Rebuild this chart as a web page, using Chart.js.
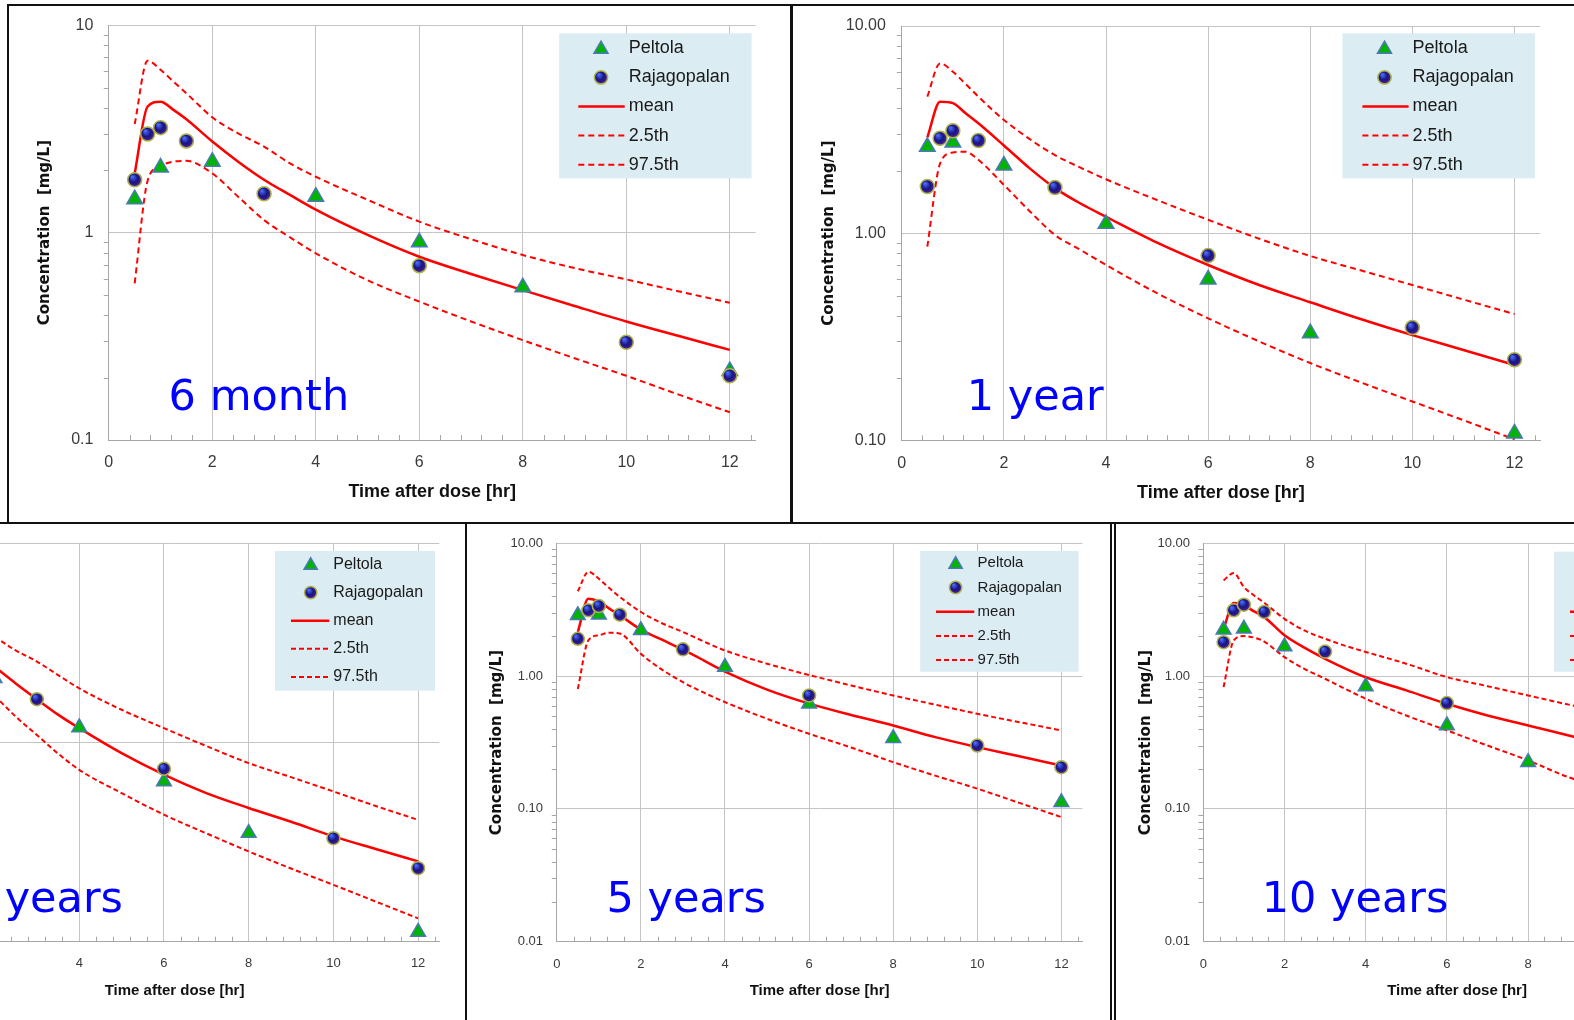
<!DOCTYPE html>
<html><head><meta charset="utf-8">
<script src="https://cdn.jsdelivr.net/npm/chart.js@4.4.1/dist/chart.umd.min.js"></script>
<style>
html,body{margin:0;padding:0;background:#fff;overflow:hidden;}
#stage{position:relative;width:1574px;height:1020px;overflow:hidden;background:#fff;}
#stage canvas{position:absolute;}
.ln{position:absolute;background:#111;}
</style></head><body>
<div id="stage">
<canvas id="c6m"></canvas>
<canvas id="c1y"></canvas>
<canvas id="c2y"></canvas>
<canvas id="c5y"></canvas>
<canvas id="c10y"></canvas>
<div class="ln" style="left:7px;top:4px;width:1567px;height:2px"></div>
<div class="ln" style="left:7px;top:4px;width:2px;height:520px"></div>
<div class="ln" style="left:790px;top:4px;width:3px;height:520px"></div>
<div class="ln" style="left:0px;top:522px;width:1574px;height:2px"></div>
<div class="ln" style="left:465px;top:523px;width:2px;height:497px"></div>
<div class="ln" style="left:1110px;top:523px;width:2px;height:497px"></div>
<div class="ln" style="left:1114px;top:523px;width:2px;height:497px"></div>
</div>
<script>
// ---------------- DATA ----------------
const xTickValues = [0, 2, 4, 6, 8, 10, 12];
const legendLabels = ['Peltola', 'Rajagopalan', 'mean', '2.5th', '97.5th'];

// simulation time grids
const simTimes = [0.5, 0.75, 1, 1.25, 1.5, 2, 2.5, 3, 3.5, 4, 5, 6, 7, 8, 9, 10, 11, 12];
const simTimes2y = [2, 2.5, 3, 3.5, 4, 5, 6, 7, 8, 9, 10, 11, 12];
const simTimes10y = [0.5, 0.75, 1, 1.25, 1.5, 2, 2.5, 3, 3.5, 4, 5, 6, 7, 8, 9, 10];

// 6 month
const mean6m  = [1.93, 4.06, 4.28, 3.91, 3.52, 2.75, 2.20, 1.80, 1.52, 1.29, 0.975, 0.765, 0.632, 0.528, 0.443, 0.373, 0.318, 0.272];
const lower6m = [0.57, 1.78, 2.10, 2.20, 2.22, 1.93, 1.49, 1.15, 0.95, 0.795, 0.59, 0.465, 0.373, 0.303, 0.248, 0.204, 0.166, 0.136];
const upper6m = [3.34, 6.75, 6.10, 5.35, 4.70, 3.60, 3.01, 2.60, 2.16, 1.86, 1.44, 1.13, 0.93, 0.78, 0.675, 0.595, 0.522, 0.459];
const peltolaT6m = [0.5, 1, 2, 4, 6, 8, 12];
const peltolaC6m = [1.45, 2.06, 2.20, 1.49, 0.90, 0.545, 0.215];
const rajaT6m = [0.5, 0.75, 1, 1.5, 3, 6, 10, 12];
const rajaC6m = [1.80, 2.99, 3.21, 2.77, 1.54, 0.693, 0.296, 0.204];

// 1 year
const mean1y  = [2.90, 4.31, 4.24, 3.79, 3.39, 2.65, 2.06, 1.65, 1.39, 1.20, 0.90, 0.702, 0.562, 0.464, 0.384, 0.322, 0.273, 0.231];
const lower1y = [0.86, 2.17, 2.45, 2.47, 2.26, 1.71, 1.28, 0.98, 0.83, 0.702, 0.513, 0.388, 0.30, 0.236, 0.19, 0.154, 0.125, 0.101];
const upper1y = [4.56, 6.60, 6.02, 5.25, 4.56, 3.52, 2.85, 2.38, 2.07, 1.82, 1.445, 1.16, 0.94, 0.776, 0.66, 0.562, 0.478, 0.407];
const peltolaT1y = [0.5, 1, 2, 4, 6, 8, 12];
const peltolaC1y = [2.61, 2.74, 2.12, 1.11, 0.598, 0.329, 0.108];
const rajaT1y = [0.5, 0.75, 1, 1.5, 3, 6, 10, 12];
const rajaC1y = [1.68, 2.87, 3.12, 2.80, 1.66, 0.779, 0.35, 0.245];

// 2 years (left part cut off)
const mean2y  = [2.40, 1.98, 1.65, 1.38, 1.18, 0.884, 0.689, 0.557, 0.469, 0.40, 0.338, 0.292, 0.253];
const lower2y = [1.72, 1.35, 1.09, 0.88, 0.729, 0.557, 0.434, 0.35, 0.284, 0.233, 0.193, 0.159, 0.131];
const upper2y = [3.40, 2.90, 2.55, 2.18, 1.87, 1.46, 1.18, 0.96, 0.788, 0.67, 0.568, 0.48, 0.409];
const peltolaT2y = [2, 4, 6, 8, 12];
const peltolaC2y = [2.10, 1.19, 0.637, 0.351, 0.112];
const rajaT2y = [3, 6, 10, 12];
const rajaC2y = [1.65, 0.738, 0.331, 0.234];

// 5 years
const mean5y  = [2.15, 3.83, 3.65, 3.22, 2.87, 2.24, 1.88, 1.58, 1.31, 1.08, 0.79, 0.62, 0.51, 0.425, 0.347, 0.292, 0.249, 0.212];
const lower5y = [0.80, 1.86, 2.03, 2.12, 2.09, 1.47, 1.12, 0.90, 0.75, 0.637, 0.477, 0.368, 0.29, 0.225, 0.178, 0.142, 0.111, 0.0867];
const upper5y = [4.35, 6.10, 5.41, 4.60, 3.94, 3.04, 2.50, 2.15, 1.82, 1.56, 1.24, 1.02, 0.85, 0.715, 0.61, 0.52, 0.45, 0.39];
const peltolaT5y = [0.5, 1, 2, 4, 6, 8, 12];
const peltolaC5y = [2.87, 2.90, 2.21, 1.17, 0.619, 0.341, 0.112];
const rajaT5y = [0.5, 0.75, 1, 1.5, 3, 6, 10, 12];
const rajaC5y = [1.91, 3.13, 3.37, 2.90, 1.59, 0.715, 0.30, 0.206];

// 10 years (right part cut off)
const mean10y  = [2.27, 3.55, 3.41, 3.07, 2.78, 2.03, 1.63, 1.35, 1.14, 0.98, 0.78, 0.619, 0.505, 0.425, 0.357, 0.30];
const lower10y = [0.826, 1.86, 2.00, 1.95, 1.82, 1.39, 1.13, 0.955, 0.80, 0.675, 0.505, 0.39, 0.30, 0.232, 0.173, 0.14];
const upper10y = [5.26, 5.97, 4.68, 4.05, 3.57, 2.70, 2.20, 1.91, 1.69, 1.52, 1.24, 0.983, 0.84, 0.715, 0.61, 0.53];
const peltolaT10y = [0.5, 1, 2, 4, 6, 8];
const peltolaC10y = [2.23, 2.27, 1.67, 0.836, 0.425, 0.225];
const rajaT10y = [0.5, 0.75, 1, 1.5, 3, 6];
const rajaC10y = [1.80, 3.13, 3.45, 3.04, 1.53, 0.626];

// y-axis ticks
const yTicks2dec = [0.1, 1, 10];
const yLabels6m = ['0.1', '1', '10'];
const yLabels2dec = ['0.10', '1.00', '10.00'];
const yTicks3dec = [0.01, 0.1, 1, 10];
const yLabels3dec = ['0.01', '0.10', '1.00', '10.00'];

// ---------------- RENDERING ----------------
const SANS = '"Liberation Sans", Arial, sans-serif';
const DEJAVU = '"DejaVu Sans", Verdana, sans-serif';
const RED = '#ff0000';
const TRI_FILL = '#00b400', TRI_STROKE = '#4a78b8';
const CIR_STROKE = '#a9b548';

function circleGradient(ctx2d, x, y, r) {
  const g = ctx2d.createRadialGradient(x - r * 0.35, y - r * 0.45, r * 0.1, x, y, r);
  g.addColorStop(0, '#4d68ff');
  g.addColorStop(0.55, '#15157f');
  g.addColorStop(1, '#5a1d9c');
  return g;
}
function drawTriangle(ctx, x, y, r) {
  const s = Math.sin(Math.PI / 3) * r;
  ctx.beginPath();
  ctx.moveTo(x, y - r);
  ctx.lineTo(x + s, y + r / 2);
  ctx.lineTo(x - s, y + r / 2);
  ctx.closePath();
  ctx.fillStyle = TRI_FILL; ctx.fill();
  ctx.lineWidth = 1.5; ctx.strokeStyle = TRI_STROKE; ctx.stroke();
}
function drawCircle(ctx, x, y, r) {
  ctx.beginPath();
  ctx.arc(x, y, r, 0, Math.PI * 2);
  ctx.fillStyle = circleGradient(ctx, x, y, r); ctx.fill();
  ctx.lineWidth = 1.5; ctx.strokeStyle = CIR_STROKE; ctx.stroke();
}

function makeChart(id, c) {
  const cv = document.getElementById(id);
  cv.width = c.w; cv.height = c.h;
  cv.style.left = c.left + 'px'; cv.style.top = c.top + 'px';
  cv.style.width = c.w + 'px'; cv.style.height = c.h + 'px';
  const xy = (ts, vs) => ts.map((t, i) => ({ x: t, y: vs[i] }));

  const decor = {
    id: 'decor_' + id,
    beforeDatasetsDraw(chart) {
      const ctx = chart.ctx, a = chart.chartArea, xs = chart.scales.x, ys = chart.scales.y;
      ctx.save();
      ctx.strokeStyle = '#a6a6a6'; ctx.lineWidth = 1;
      ctx.beginPath();
      for (let k = 1; k <= 31; k++) {
        if (k % 5 === 0) continue;
        const v = Math.round(k * 0.4 * 10) / 10;
        const px = Math.round(xs.getPixelForValue(v)) + 0.5;
        if (px > a.right) continue;
        ctx.moveTo(px, a.bottom); ctx.lineTo(px, a.bottom - 5);
      }
      for (let d = c.yMin; d < 10 - 1e-9; d *= 10) {
        for (let m = 2; m <= 9; m++) {
          const py = Math.round(ys.getPixelForValue(m * d)) + 0.5;
          ctx.moveTo(a.left - 5, py); ctx.lineTo(a.left, py);
        }
      }
      ctx.stroke();
      ctx.restore();
    },
    afterDraw(chart) {
      const ctx = chart.ctx, L = c.legend;
      ctx.save();
      ctx.fillStyle = '#dbecf3';
      ctx.fillRect(L.x, L.y, L.w, L.h);
      const rows = legendLabels.map((_, i) => L.row0 + i * L.step);
      drawTriangle(ctx, L.mx, rows[0] + 1, c.triR * 0.9);
      drawCircle(ctx, L.mx, rows[1], c.cirR * 0.95);
      ctx.strokeStyle = RED;
      ctx.lineWidth = 2.5; ctx.setLineDash([]);
      ctx.beginPath(); ctx.moveTo(L.lx0, rows[2]); ctx.lineTo(L.lx1, rows[2]); ctx.stroke();
      ctx.lineWidth = 2; ctx.setLineDash(c.dash);
      ctx.beginPath(); ctx.moveTo(L.lx0, rows[3]); ctx.lineTo(L.lx1, rows[3]); ctx.stroke();
      ctx.beginPath(); ctx.moveTo(L.lx0, rows[4]); ctx.lineTo(L.lx1, rows[4]); ctx.stroke();
      ctx.setLineDash([]);
      ctx.fillStyle = '#1a1a1a';
      ctx.font = L.font + 'px ' + SANS;
      ctx.textBaseline = 'middle'; ctx.textAlign = 'left';
      legendLabels.forEach((t, i) => ctx.fillText(t, L.tx, rows[i]));
      ctx.fillStyle = '#0000ff';
      ctx.font = c.tag.size + 'px ' + DEJAVU;
      ctx.textBaseline = 'alphabetic';
      ctx.textAlign = c.tag.align || 'left';
      ctx.fillText(c.tag.text, c.tag.x, c.tag.y);
      ctx.restore();
    }
  };

  return new Chart(cv, {
    type: 'line',
    data: {
      datasets: [
        { label: 'Peltola', data: xy(c.pT, c.pC), showLine: false, pointStyle: 'triangle',
          pointRadius: c.triR, pointHoverRadius: c.triR, pointBackgroundColor: TRI_FILL,
          pointBorderColor: TRI_STROKE, pointBorderWidth: 1.5, order: 2, clip: false },
        { label: 'Rajagopalan', data: xy(c.rT, c.rC), showLine: false, pointStyle: 'circle',
          pointRadius: c.cirR, pointHoverRadius: c.cirR,
          pointBackgroundColor: (ctx) => {
            const ch = ctx.chart;
            if (!ctx.parsed || !ch.scales || !ch.scales.x || !ch.chartArea) return '#15157f';
            const px = ch.scales.x.getPixelForValue(ctx.parsed.x);
            const py = ch.scales.y.getPixelForValue(ctx.parsed.y);
            if (!isFinite(px) || !isFinite(py)) return '#15157f';
            return circleGradient(ch.ctx, px, py, c.cirR);
          },
          pointBorderColor: CIR_STROKE, pointBorderWidth: 1.5, order: 1, clip: false },
        { label: 'mean', data: xy(c.sT, c.mean), borderColor: RED, borderWidth: 2.5,
          pointRadius: 0, cubicInterpolationMode: 'monotone', order: 3 },
        { label: '2.5th', data: xy(c.sT, c.lo), borderColor: RED, borderWidth: 2, borderDash: c.dash,
          pointRadius: 0, cubicInterpolationMode: 'monotone', order: 4 },
        { label: '97.5th', data: xy(c.sT, c.hi), borderColor: RED, borderWidth: 2, borderDash: c.dash,
          pointRadius: 0, cubicInterpolationMode: 'monotone', order: 5 }
      ]
    },
    options: {
      responsive: false, animation: false, devicePixelRatio: 1, events: [],
      layout: { padding: { left: 0, top: c.padT, right: c.padR, bottom: 0 } },
      plugins: { legend: { display: false }, tooltip: { enabled: false }, title: { display: false } },
      scales: {
        x: {
          type: 'linear', min: 0, max: 12.5,
          afterBuildTicks: s => { s.ticks = xTickValues.map(v => ({ value: v })); },
          afterFit: s => { s.height = c.xH; s.paddingLeft = 0; s.paddingRight = 0; },
          grid: { color: '#c4c4c4', lineWidth: 1, drawTicks: false },
          border: { color: '#a6a6a6', width: 1 },
          ticks: { padding: c.xtPad, color: '#3a3a3a', autoSkip: false, maxRotation: 0,
                   font: { family: SANS, size: c.xtSize }, callback: v => String(v) },
          title: { display: true, text: 'Time after dose [hr]', color: '#111',
                   font: { family: SANS, weight: 'bold', size: c.xTitleSize },
                   padding: { top: 0, bottom: c.xTitlePad } }
        },
        y: {
          type: 'logarithmic', min: c.yMin, max: 10,
          afterBuildTicks: s => { s.ticks = c.yTicks.map(v => ({ value: v })); },
          afterFit: s => { s.width = c.yW; s.paddingTop = 0; s.paddingBottom = 0; },
          grid: { color: '#c4c4c4', lineWidth: 1, drawTicks: false },
          border: { color: '#a6a6a6', width: 1 },
          ticks: { padding: c.ytPad, color: '#3a3a3a', autoSkip: false,
                   font: { family: SANS, size: c.ytSize }, callback: (v, i) => c.yLabels[i] },
          title: { display: true, text: 'Concentration  [mg/L]', color: '#111',
                   font: { family: DEJAVU, weight: 'bold', size: c.yTitleSize },
                   padding: { top: c.yTitlePad, bottom: 0 } }
        }
      }
    },
    plugins: [decor]
  });
}

makeChart('c6m', {
  left: 10, top: 7, w: 778, h: 512,
  yW: 98.8, padR: 32.3, padT: 18.3, xH: 79,
  ytPad: 15.4, ytSize: 16, xtPad: 13.4, xtSize: 16,
  xTitleSize: 18, xTitlePad: 16.2, yTitleSize: 15, yTitlePad: 26.2,
  yMin: 0.1, yTicks: yTicks2dec, yLabels: yLabels6m,
  sT: simTimes, mean: mean6m, lo: lower6m, hi: upper6m,
  pT: peltolaT6m, pC: peltolaC6m, rT: rajaT6m, rC: rajaC6m,
  triR: 9, cirR: 7, dash: [6, 4],
  legend: { x: 549.2, y: 26.3, w: 192.4, h: 145, row0: 41.3, step: 29.1, lx0: 568.3, lx1: 614.7, mx: 591, tx: 618.7, font: 18 },
  tag: { text: '6 month', x: 158.6, y: 403, size: 43 }
});

makeChart('c1y', {
  left: 794, top: 7, w: 780, h: 512,
  yW: 107.8, padR: 34, padT: 19, xH: 78.7,
  ytPad: 16, ytSize: 16, xtPad: 13.4, xtSize: 16,
  xTitleSize: 18, xTitlePad: 15.5, yTitleSize: 15, yTitlePad: 26,
  yMin: 0.1, yTicks: yTicks2dec, yLabels: yLabels2dec,
  sT: simTimes, mean: mean1y, lo: lower1y, hi: upper1y,
  pT: peltolaT1y, pC: peltolaC1y, rT: rajaT1y, rC: rajaC1y,
  triR: 9, cirR: 7, dash: [6, 4],
  legend: { x: 548.4, y: 26.3, w: 192.5, h: 145, row0: 41.3, step: 29.1, lx0: 568.4, lx1: 614.6, mx: 590.5, tx: 618.6, font: 18 },
  tag: { text: '1 year', x: 172.7, y: 403, size: 43 }
});

makeChart('c2y', {
  left: -200, top: 526, w: 666, h: 494,
  yW: 109.8, padR: 26.7, padT: 17.3, xH: 78.3,
  ytPad: 14, ytSize: 13, xtPad: 13.8, xtSize: 13,
  xTitleSize: 15, xTitlePad: 20, yTitleSize: 15, yTitlePad: 20,
  yMin: 0.1, yTicks: yTicks2dec, yLabels: yLabels2dec,
  sT: simTimes2y, mean: mean2y, lo: lower2y, hi: upper2y,
  pT: peltolaT2y, pC: peltolaC2y, rT: rajaT2y, rC: rajaC2y,
  triR: 8.5, cirR: 6.5, dash: [5, 3],
  legend: { x: 475, y: 25, w: 160, h: 139.7, row0: 38.5, step: 28.1, lx0: 491, lx1: 529.3, mx: 510.7, tx: 533.3, font: 16 },
  tag: { text: '2 years', x: 323, y: 385.7, size: 43, align: 'right' }
});

makeChart('c5y', {
  left: 468, top: 526, w: 642, h: 494,
  yW: 88.8, padR: 27.6, padT: 17.3, xH: 78.3,
  ytPad: 13.8, ytSize: 13, xtPad: 14.8, xtSize: 13,
  xTitleSize: 15, xTitlePad: 20, yTitleSize: 15, yTitlePad: 20.3,
  yMin: 0.01, yTicks: yTicks3dec, yLabels: yLabels3dec,
  sT: simTimes, mean: mean5y, lo: lower5y, hi: upper5y,
  pT: peltolaT5y, pC: peltolaC5y, rT: rajaT5y, rC: rajaC5y,
  triR: 8.5, cirR: 6.5, dash: [5, 3],
  legend: { x: 452.2, y: 25, w: 158.4, h: 120.7, row0: 37.3, step: 24.2, lx0: 468, lx1: 506.3, mx: 487.6, tx: 509.6, font: 15 },
  tag: { text: '5 years', x: 138.5, y: 385.7, size: 43 }
});

makeChart('c10y', {
  left: 1117, top: 526, w: 620, h: 494,
  yW: 86.3, padR: 26.2, padT: 17.3, xH: 78.3,
  ytPad: 13.3, ytSize: 13, xtPad: 14.8, xtSize: 13,
  xTitleSize: 15, xTitlePad: 20, yTitleSize: 15, yTitlePad: 19.7,
  yMin: 0.01, yTicks: yTicks3dec, yLabels: yLabels3dec,
  sT: simTimes10y, mean: mean10y, lo: lower10y, hi: upper10y,
  pT: peltolaT10y, pC: peltolaC10y, rT: rajaT10y, rC: rajaC10y,
  triR: 8.5, cirR: 6.5, dash: [5, 3],
  legend: { x: 437, y: 25.7, w: 158, h: 120, row0: 37.3, step: 24.2, lx0: 453, lx1: 491.3, mx: 472.6, tx: 494.6, font: 15 },
  tag: { text: '10 years', x: 144.7, y: 385.7, size: 43 }
});
</script>
</body></html>
